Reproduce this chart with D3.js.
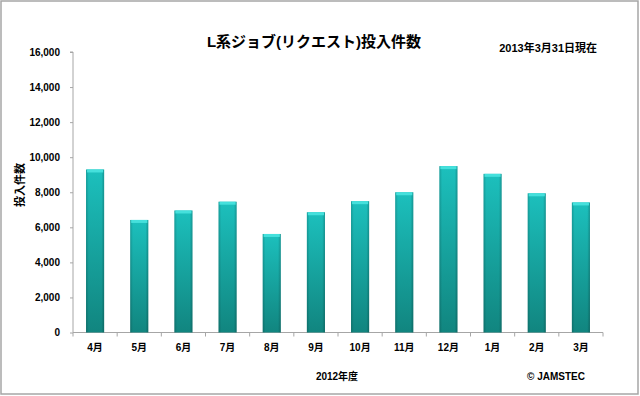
<!DOCTYPE html>
<html><head><meta charset="utf-8">
<script src="https://cdn.jsdelivr.net/npm/d3@7"></script>
<style>body{margin:0;background:#fff}svg{display:block}text{font-family:"Liberation Sans","Noto Sans CJK JP",sans-serif;font-weight:bold;fill:#000}</style>
</head><body>
<script>
const months = ["4月","5月","6月","7月","8月","9月","10月","11月","12月","1月","2月","3月"];
const jobs = [9300,6420,6960,7460,5620,6860,7490,8000,9490,9050,7940,7420];
const yTicks = [0,2000,4000,6000,8000,10000,12000,14000,16000];
const title = "L系ジョブ(リクエスト)投入件数";
const dateNote = "2013年3月31日現在";
const yTitle = "投入件数";
const xTitle = "2012年度";
const credit = "© JAMSTEC";

const W=640,H=396;
const m={l:73,r:603,t:52,b:332.5};
const svg=d3.select("body").append("svg").attr("width",W).attr("height",H);
svg.append("rect").attr("x",1).attr("y",1).attr("width",W-3).attr("height",H-3).attr("fill","#fff").attr("stroke","#a6a6a6").attr("stroke-width",1.5);

const defs=svg.append("defs");
const g=defs.append("linearGradient").attr("id","bg").attr("x1",0).attr("y1",0).attr("x2",0).attr("y2",1);
g.append("stop").attr("offset","0%").attr("stop-color","#1cc0bd");
g.append("stop").attr("offset","100%").attr("stop-color","#11857f");
const gh=defs.append("linearGradient").attr("id","bh").attr("x1",0).attr("y1",0).attr("x2",1).attr("y2",0);
gh.append("stop").attr("offset","0%").attr("stop-color","#000").attr("stop-opacity",0.18);
gh.append("stop").attr("offset","15%").attr("stop-color","#000").attr("stop-opacity",0);
gh.append("stop").attr("offset","85%").attr("stop-color","#000").attr("stop-opacity",0);
gh.append("stop").attr("offset","100%").attr("stop-color","#000").attr("stop-opacity",0.22);

const x=d3.scaleBand().domain(months).range([m.l,m.r]).paddingInner(0.59).paddingOuter(0.295);
const y=d3.scaleLinear().domain([0,16000]).range([m.b,m.t]);

// y axis
const ya=svg.append("g").attr("transform",`translate(${m.l},0)`)
  .call(d3.axisLeft(y).tickValues(yTicks).tickFormat(d3.format(",")).tickSize(3).tickPadding(10));
ya.select(".domain").attr("stroke","#a6a6a6").attr("d",`M-3,${m.t}H0V${m.b}`);
ya.selectAll(".tick line").attr("stroke","#a6a6a6");
ya.selectAll(".tick text").attr("font-size",10).attr("font-family","Liberation Sans, sans-serif").attr("font-weight","bold");

// x axis
const band=(m.r-m.l)/months.length;
const xa=svg.append("g").attr("transform",`translate(0,${m.b})`)
  .call(d3.axisBottom(x).tickSize(0).tickPadding(11));
xa.select(".domain").attr("stroke","#a6a6a6").attr("d",`M${m.l},0H${m.r}`);
xa.selectAll(".tick text").attr("font-size",10).attr("font-weight","bold");
svg.append("g").selectAll("line").data(d3.range(months.length+1)).join("line")
  .attr("x1",i=>m.l+i*band).attr("x2",i=>m.l+i*band).attr("y1",m.b).attr("y2",m.b+4)
  .attr("stroke","#a6a6a6");

// bars
const bars=svg.append("g").selectAll("g").data(months).join("g");
bars.append("rect").attr("x",d=>x(d)).attr("width",x.bandwidth())
  .attr("y",(d,i)=>y(jobs[i])).attr("height",(d,i)=>m.b-y(jobs[i])).attr("fill","url(#bg)");
bars.append("rect").attr("x",d=>x(d)).attr("width",x.bandwidth())
  .attr("y",(d,i)=>y(jobs[i])).attr("height",(d,i)=>m.b-y(jobs[i])).attr("fill","url(#bh)");
bars.append("rect").attr("x",d=>x(d)+1).attr("width",x.bandwidth()-2)
  .attr("y",(d,i)=>y(jobs[i])).attr("height",3).attr("fill","#45e0dc");

// texts
svg.append("text").attr("x",314).attr("y",47).attr("text-anchor","middle").attr("font-size",15)
  .attr("font-family","Noto Sans CJK JP, sans-serif").text(title);
svg.append("text").attr("x",597).attr("y",52).attr("text-anchor","end").attr("font-size",11).text(dateNote);
svg.append("text").attr("transform","translate(24,185) rotate(-90)").attr("text-anchor","middle").attr("font-size",11).text(yTitle);
svg.append("text").attr("x",337).attr("y",380).attr("text-anchor","middle").attr("font-size",10).text(xTitle);
svg.append("text").attr("x",556).attr("y",380).attr("text-anchor","middle").attr("font-size",10).text(credit);
</script>
</body></html>
